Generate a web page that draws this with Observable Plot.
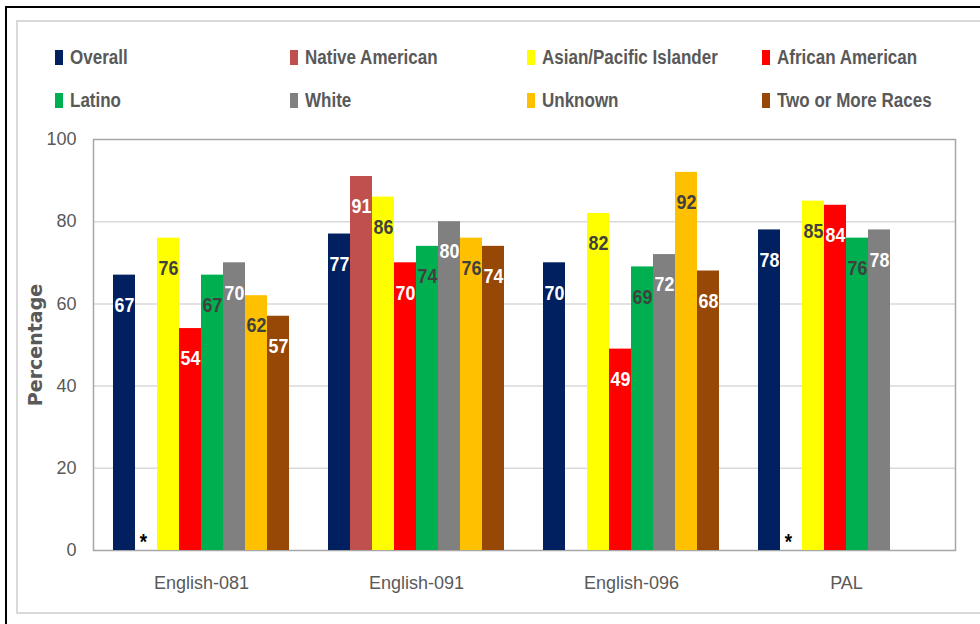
<!DOCTYPE html>
<html>
<head>
<meta charset="utf-8">
<script src="https://cdn.jsdelivr.net/npm/d3@7"></script>
<script src="https://cdn.jsdelivr.net/npm/@observablehq/plot@0.6"></script>
<style>
  html, body { margin: 0; padding: 0; background: #fff; }
  body { width: 980px; height: 624px; position: relative; overflow: hidden; }
  .outer { position: absolute; left: 5px; top: 6px; width: 1100px; height: 800px;
           border-left: 2px solid #000; border-top: 2px solid #000; }
  .inner { position: absolute; left: 16px; top: 20px; width: 1100px; height: 590px;
           border: 2px solid #d9d9d9; }
  .legend-item { position: absolute; display: flex; align-items: center; height: 24px;
           font-family: "Liberation Sans", Arial, sans-serif;
           font-weight: bold; font-size: 20px; color: #595959; white-space: nowrap; }
  .legend-item .sw { width: 8px; height: 15px; margin-right: 7px; display: inline-block; flex: none; }
  .legend-item .lbl { display: inline-block; transform: scaleX(0.85); transform-origin: left center; }
  .plot { position: absolute; left: 0; top: 120px; }
  .plot svg { overflow: visible; }
</style>
</head>
<body>
<div class="outer"></div>
<div class="inner"></div>
<div id="legend"></div>
<div class="plot bg" id="bg"></div>
<div class="plot fg" id="fg"></div>
<script>
// ---- data ----
const groups = ["English-081", "English-091", "English-096", "PAL"];
const series = ["Overall", "Native American", "Asian/Pacific Islander", "African American",
                "Latino", "White", "Unknown", "Two or More Races"];
const overall        = [67, 77, 70, 78];
const nativeAmerican = [null, 91, null, null];
const asianPacific   = [76, 86, 82, 85];
const africanAm      = [54, 70, 49, 84];
const latino         = [67, 74, 69, 76];
const white          = [70, 80, 72, 78];
const unknown        = [62, 76, 92, null];
const twoOrMore      = [57, 74, 68, null];
const asteriskGroups = ["English-081", "PAL"];   // Native American suppressed (*)
const yTicks = [0, 20, 40, 60, 80, 100];
const yLabel = "Percentage";

const colors = ["#002060", "#C0504D", "#FFFF00", "#FF0000", "#00B050", "#808080", "#FFC000", "#974706"];
const labelColors = ["#ffffff", "#ffffff", "#404040", "#ffffff", "#404040", "#ffffff", "#404040", "#ffffff"];

const seriesValues = [overall, nativeAmerican, asianPacific, africanAm, latino, white, unknown, twoOrMore];
const data = [];
series.forEach((s, si) => {
  groups.forEach((g, gi) => {
    const v = seriesValues[si][gi];
    if (v != null) data.push({group: g, series: s, value: v});
  });
});
const stars = asteriskGroups.map(g => ({group: g, series: "Native American"}));
const labelColorOf = Object.fromEntries(series.map((s, i) => [s, labelColors[i]]));

// ---- legend ----
const legendCols = [55, 290, 527, 762];
const legendRows = [45, 88];
const legend = document.getElementById("legend");
series.forEach((s, i) => {
  const el = document.createElement("div");
  el.className = "legend-item";
  el.style.left = legendCols[i % 4] + "px";
  el.style.top = legendRows[Math.floor(i / 4)] + "px";
  el.innerHTML = `<span class="sw" style="background:${colors[i]}"></span><span class="lbl">${s}</span>`;
  legend.appendChild(el);
});

// ---- shared layout ----
const W = 980, H = 480;
const margins = {marginTop: 19, marginBottom: 50, marginLeft: 93, marginRight: 25};
const axisFont = '"Liberation Sans", Arial, sans-serif';

// background: grid, frame, y axis
const bg = Plot.plot({
  width: W, height: H, ...margins,
  style: {fontFamily: axisFont, fontSize: "18px", color: "#595959", background: "transparent"},
  y: {domain: [0, 100]},
  marks: [
    Plot.gridY(yTicks.filter(t => t > 0 && t < 100), {stroke: "#d9d9d9", strokeOpacity: 1, strokeWidth: 1.5}),
    Plot.frame({stroke: "#a6a6a6", strokeWidth: 1.5}),
    Plot.axisY(yTicks, {tickSize: 0, tickPadding: 17, fontSize: 18, fill: "#595959", label: null}),
    Plot.text([yLabel], {frameAnchor: "left", rotate: -90, dx: -58, text: d => d, textAnchor: "middle",
      fontFamily: '"DejaVu Sans", sans-serif', fontWeight: "bold", fontSize: 19, fill: "#595959"})
  ]
});
document.getElementById("bg").appendChild(bg);

// foreground: bars + labels, faceted by group
const fg = Plot.plot({
  width: W, height: H, ...margins,
  style: {fontFamily: axisFont, fontSize: "18px", color: "#595959", background: "transparent"},
  fx: {domain: groups, paddingInner: 0.17, paddingOuter: 0.085},
  x: {domain: series, padding: 0, axis: null},
  y: {domain: [0, 100], axis: null},
  color: {domain: series, range: colors},
  marks: [
    Plot.barY(data, {fx: "group", x: "series", y: "value", fill: "series"}),
    Plot.text(data, {fx: "group", x: "series", y: "value", text: d => String(d.value), dy: 30,
      fill: d => labelColorOf[d.series], fontWeight: "bold", fontSize: 21, fontFamily: axisFont}),
    Plot.text(stars, {fx: "group", x: "series", y: 0, text: () => "*", dy: -9, dx: -3,
      fill: "#000", fontWeight: "bold", fontSize: 22, fontFamily: axisFont}),
    Plot.axisFx({anchor: "bottom", tickSize: 0, tickPadding: 26, label: null, fontSize: 18, fill: "#595959"})
  ]
});
document.getElementById("fg").appendChild(fg);

// condense the bar value labels horizontally (Calibri-like narrow digits)
fg.querySelectorAll('g[aria-label="text"] text').forEach(t => {
  const tr = t.getAttribute("transform");
  if (tr && tr.includes("translate")) {
    t.setAttribute("transform", tr + " scale(0.85,1)");
  } else {
    const x = +(t.getAttribute("x") || 0), y = +(t.getAttribute("y") || 0);
    t.removeAttribute("x"); t.removeAttribute("y");
    t.setAttribute("transform", `translate(${x},${y}) ${tr || ""} scale(0.85,1)`);
  }
});
</script>
</body>
</html>
